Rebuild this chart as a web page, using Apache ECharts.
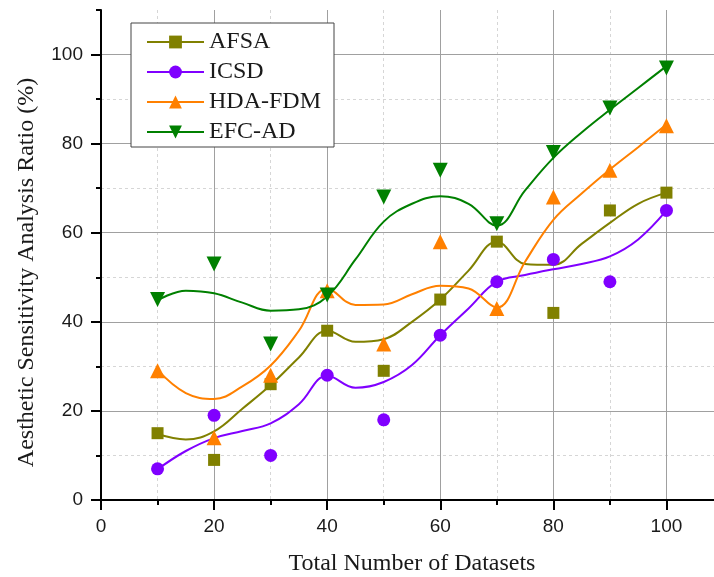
<!DOCTYPE html>
<html>
<head>
<meta charset="utf-8">
<script src="https://cdn.jsdelivr.net/npm/echarts@6/dist/echarts.min.js"></script>
<style>
html,body{margin:0;padding:0;background:#fff;}
#chart{width:714px;height:577px;}
</style>
</head>
<body>
<div id="chart"></div>
<script>
// Measured points
const datasetSizes = [10, 20, 30, 40, 50, 60, 70, 80, 90, 100];
const afsa   = [15, 9, 26, 38, 29, 45, 58, 42, 65, 69];
const icsd   = [7, 19, 10, 28, 18, 37, 49, 54, 49, 65];
const hdaFdm = [29, 14, 28, 47, 35, 58, 43, 68, 74, 84];
const efcAd  = [45, 53, 35, 46, 68, 74, 62, 78, 88, 97];

// Fitted curves at these x positions
const curveX      = [10, 15, 20, 25, 30, 35, 40, 45, 50, 55, 60, 65, 70, 75, 80, 85, 90, 95, 100];
const afsaCurve   = [14.8, 13.6, 15.4, 20.5, 25.8, 32, 38, 35.5, 36.1, 40, 45, 51.5, 58, 53, 52.8, 57.5, 62.2, 66.5, 69];
const icsdCurve   = [6.9, 11, 13.9, 15.5, 17.2, 21.5, 27.9, 25.2, 26.5, 30.3, 37, 43, 49, 50.5, 51.8, 53, 54.7, 58.5, 65];
const hdaCurve    = [29.2, 24, 22.7, 25.5, 30.2, 38, 47.5, 43.8, 43.9, 46.2, 48.1, 47.5, 43.2, 53.5, 62.9, 68.8, 74.2, 79.2, 84.3];
const efcCurve    = [44.8, 47, 46.4, 44.3, 42.5, 42.8, 45.7, 54, 62.5, 66.5, 68.2, 66.5, 61.6, 69.5, 76.8, 82.5, 87.6, 92.5, 97.4];

const seriesNames = ['AFSA', 'ICSD', 'HDA-FDM', 'EFC-AD'];
const colors = ['#808000', '#8000ff', '#ff8000', '#008000'];
const symbols = ['rect', 'circle', 'triangle', 'triangle'];
const rotations = [0, 0, 0, 180];
const symbolSizes = [12, 13, 15, 15];
const pointSets = [afsa, icsd, hdaFdm, efcAd];
const curveSets = [afsaCurve, icsdCurve, hdaCurve, efcCurve];

const pairs = (xs, ys) => xs.map((x, i) => [x, ys[i]]);

const series = [];
seriesNames.forEach((name, i) => {
  series.push({
    name: name,
    type: 'line',
    data: pairs(curveX, curveSets[i]),
    smooth: 0.4,
    showSymbol: false,
    symbol: symbols[i],
    symbolRotate: rotations[i],
    symbolSize: symbolSizes[i],
    lineStyle: { color: colors[i], width: 2 },
    itemStyle: { color: colors[i] },
    color: colors[i],
    z: 3,
    silent: true
  });
});
seriesNames.forEach((name, i) => {
  series.push({
    name: name,
    type: 'scatter',
    data: pairs(datasetSizes, pointSets[i]),
    symbol: symbols[i],
    symbolRotate: rotations[i],
    symbolSize: symbolSizes[i],
    itemStyle: { color: colors[i], opacity: 1 },
    z: 4
  });
});

const labelFont = { fontFamily: 'Liberation Sans', fontSize: 19, color: '#1a1a1a' };
const titleFont = { fontFamily: 'Liberation Serif', fontSize: 24, color: '#1a1a1a' };

const chart = echarts.init(document.getElementById('chart'), null, { renderer: 'canvas' });
chart.setOption({
  animation: false,
  backgroundColor: '#ffffff',
  grid: { left: 101, top: 10, width: 622, height: 490, containLabel: false, outerBoundsMode: 'none' },
  legend: {
    data: seriesNames,
    orient: 'vertical',
    left: 131,
    top: 23,
    itemWidth: 57,
    itemHeight: 16,
    itemGap: 6,
    padding: [7, 13, 3, 15],
    borderColor: '#444',
    borderWidth: 1,
    backgroundColor: '#fff',
    textStyle: { fontFamily: 'Liberation Serif', fontSize: 24, color: '#1a1a1a' }
  },
  xAxis: [
    {
      type: 'value', min: 0, max: 110, interval: 20, position: 'bottom', z: 1,
      name: 'Total Number of Datasets', nameLocation: 'middle', nameGap: 52,
      nameTextStyle: titleFont,
      axisLine: { show: true, onZero: false, lineStyle: { color: '#000', width: 2 } },
      axisTick: { show: true, inside: false, length: 10, lineStyle: { color: '#000', width: 2 } },
      axisLabel: Object.assign({ margin: 17, showMaxLabel: false }, labelFont),
      splitLine: { show: true, showMaxLine: false, showMinLine: false, lineStyle: { color: '#a0a0a0', width: 1 } }
    },
    {
      type: 'value', min: 0, max: 110, interval: 10, position: 'bottom', z: 0,
      axisLine: { show: false },
      axisTick: { show: true, inside: false, length: 5, lineStyle: { color: '#000', width: 2 } },
      axisLabel: { show: false },
      splitLine: { show: true, showMaxLine: false, showMinLine: false, lineStyle: { color: '#d6d6d6', width: 1, type: [3, 3] } }
    }
  ],
  yAxis: [
    {
      type: 'value', min: 0, max: 110, interval: 20, position: 'left', z: 1,
      name: 'Aesthetic Sensitivity Analysis Ratio (%)', nameLocation: 'middle', nameGap: 62,
      nameTextStyle: Object.assign({ padding: [0, 35, 0, 0] }, titleFont),
      axisLine: { show: true, onZero: false, lineStyle: { color: '#000', width: 2 } },
      axisTick: { show: true, inside: false, length: 10, lineStyle: { color: '#000', width: 2 } },
      axisLabel: Object.assign({ margin: 18, showMaxLabel: false }, labelFont),
      splitLine: { show: true, showMaxLine: false, showMinLine: false, lineStyle: { color: '#a0a0a0', width: 1 } }
    },
    {
      type: 'value', min: 0, max: 110, interval: 10, position: 'left', z: 0,
      axisLine: { show: false },
      axisTick: { show: true, inside: false, length: 5, lineStyle: { color: '#000', width: 2 } },
      axisLabel: { show: false },
      splitLine: { show: true, showMaxLine: false, showMinLine: false, lineStyle: { color: '#d6d6d6', width: 1, type: [3, 3] } }
    }
  ],
  series: series
});
</script>
</body>
</html>
